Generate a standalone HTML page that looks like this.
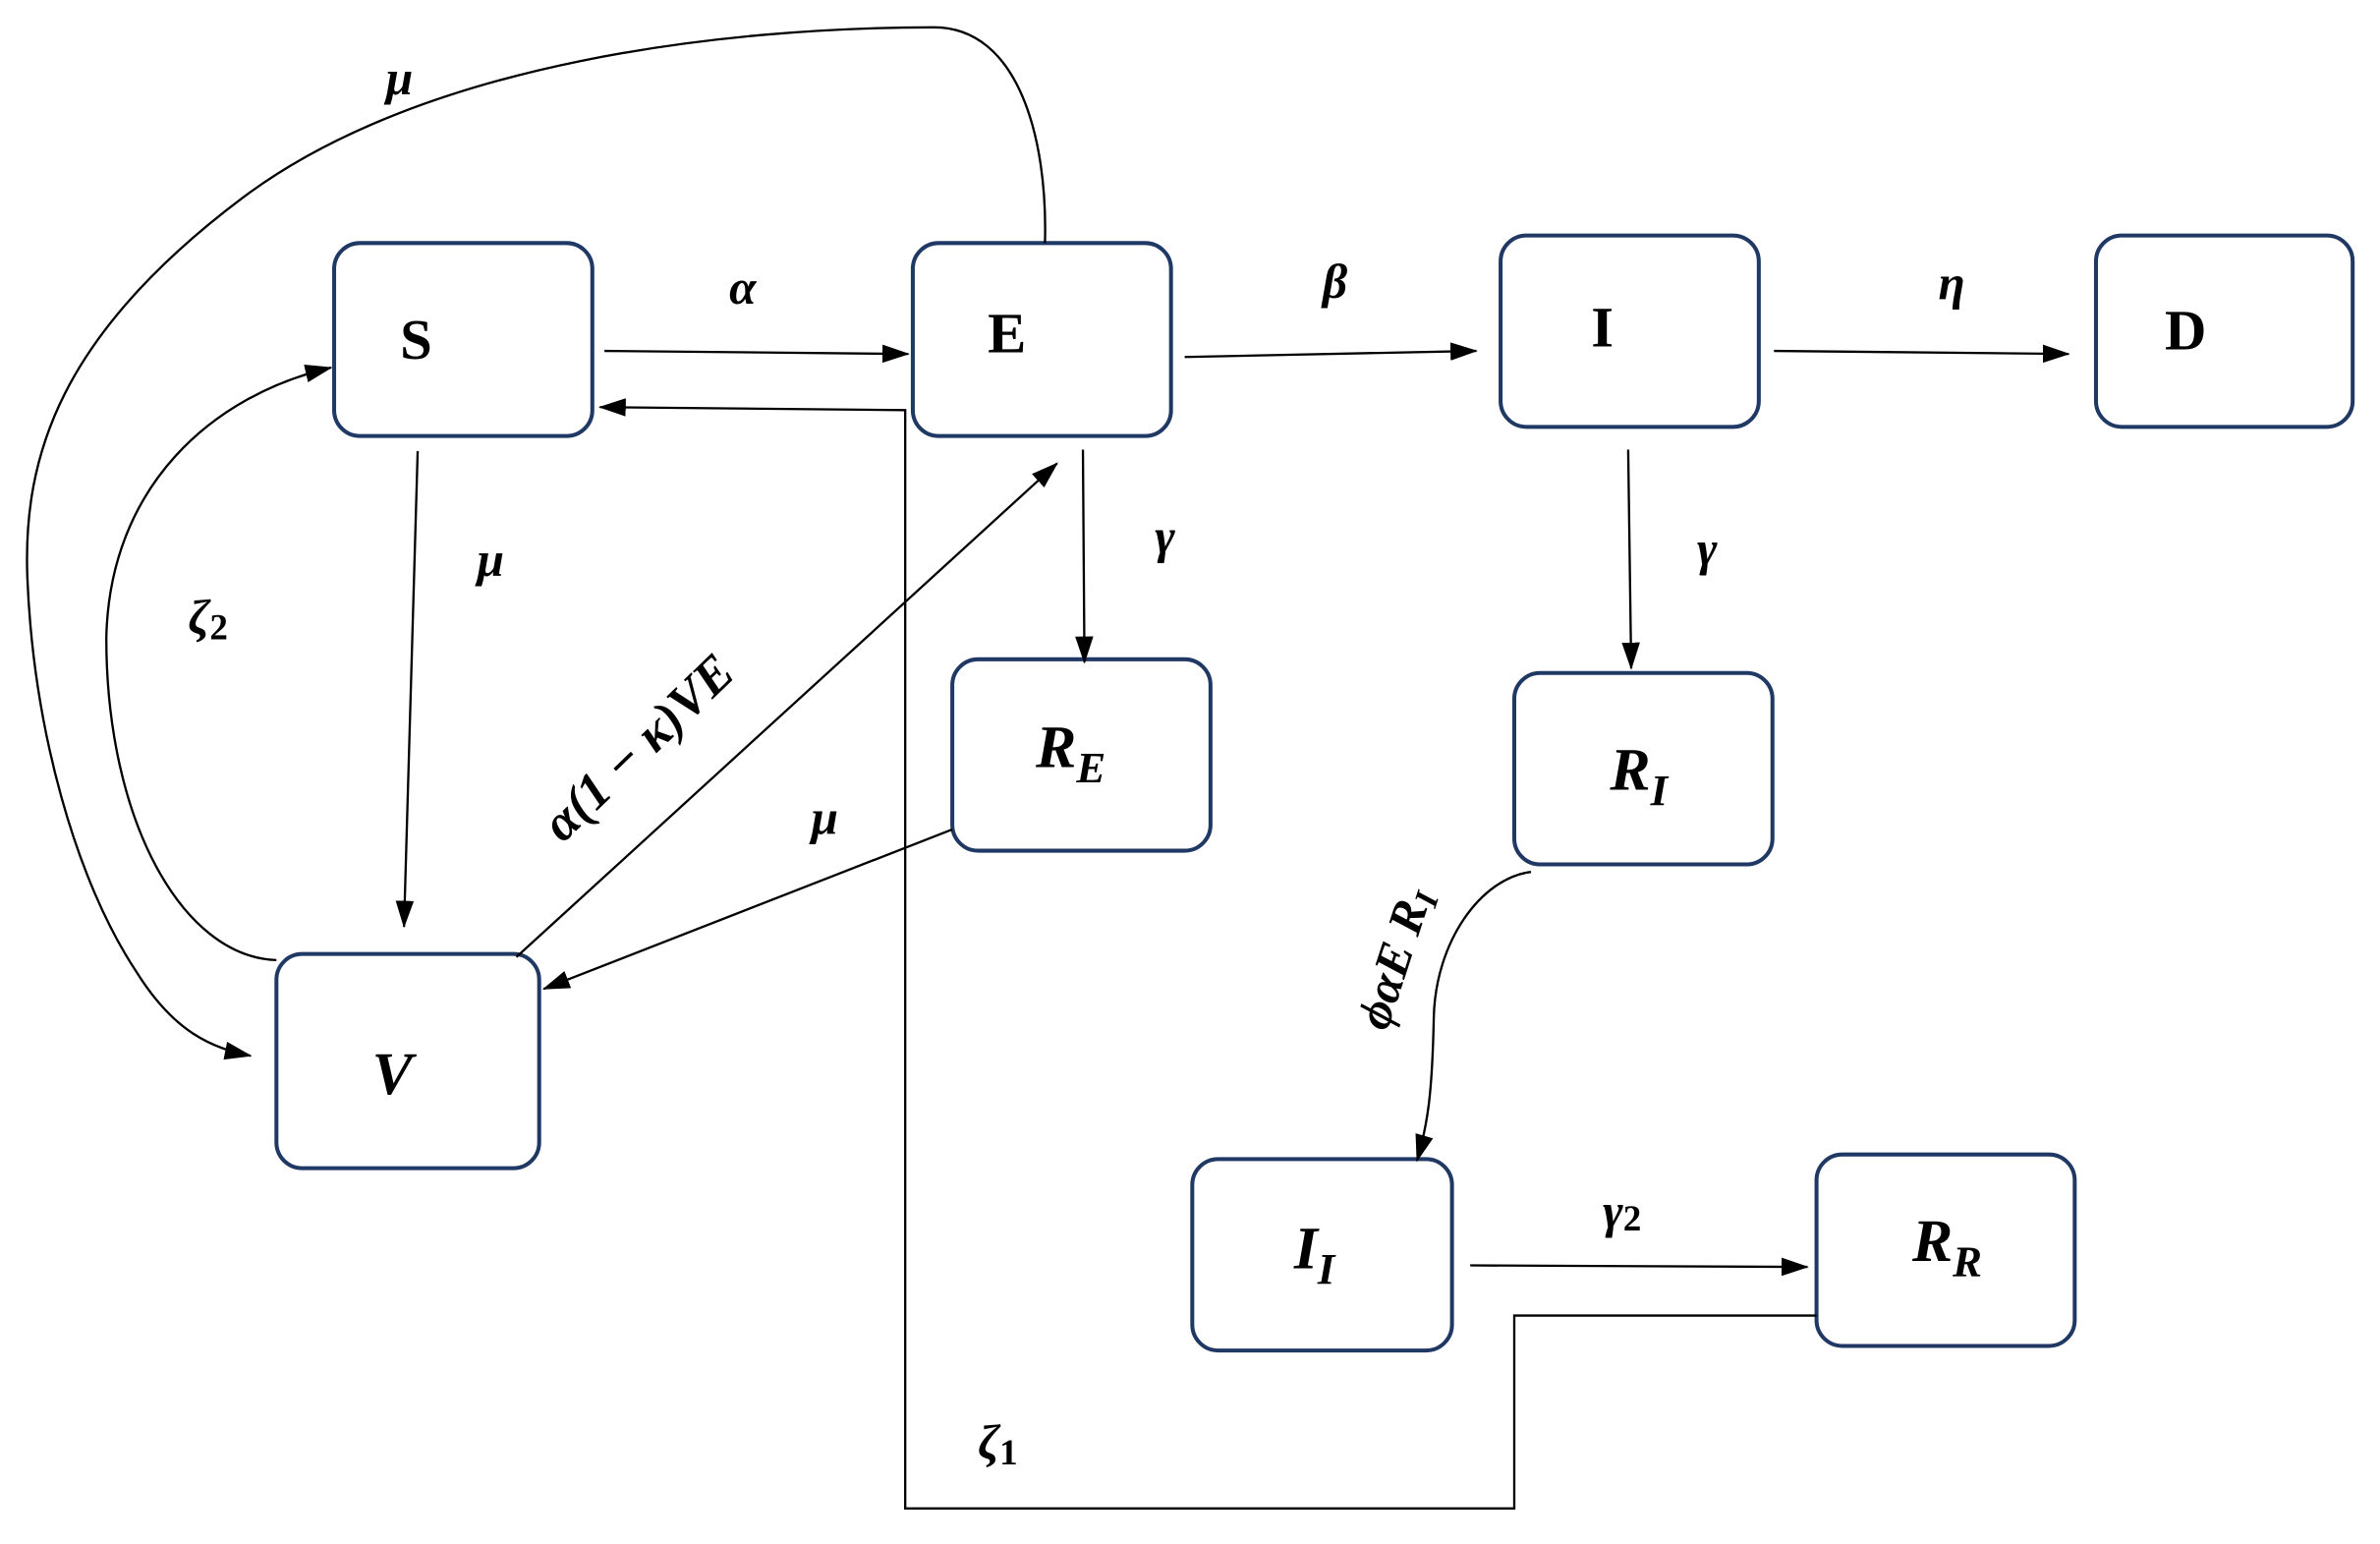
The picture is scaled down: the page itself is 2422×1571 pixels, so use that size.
<!DOCTYPE html>
<html><head><meta charset="utf-8"><style>html,body{margin:0;padding:0;background:#fff}svg{display:block}</style></head>
<body>
<svg width="2422" height="1571" viewBox="0 0 1567 1016.4" preserveAspectRatio="none" xmlns="http://www.w3.org/2000/svg" font-family="Liberation Serif, DejaVu Serif, serif">
<defs>
<marker id="a" markerWidth="18" markerHeight="12" refX="17" refY="6" orient="auto" markerUnits="userSpaceOnUse">
<path d="M0,0 L18,6 L0,12 Z" fill="#000"/></marker>
</defs>
<g fill="none" stroke="#1f3864" stroke-width="2.6">
<rect x="220" y="160" width="170" height="127" rx="17"/>
<rect x="601" y="160" width="170" height="127" rx="17"/>
<rect x="988" y="155" width="170" height="126" rx="17"/>
<rect x="1380" y="155" width="169" height="126" rx="17"/>
<rect x="627" y="434" width="170" height="126" rx="17"/>
<rect x="997" y="443" width="170" height="126" rx="17"/>
<rect x="182" y="628" width="173" height="141" rx="17"/>
<rect x="785" y="763" width="171" height="126" rx="17"/>
<rect x="1196" y="760" width="170" height="126" rx="17"/>
</g>
<g fill="none" stroke="#000" stroke-width="1.5">
<line x1="398" y1="231" x2="598" y2="233" marker-end="url(#a)"/>
<polyline points="1196,866 997,866 997,993 596,993 596,270 395,268" marker-end="url(#a)"/>
<line x1="780" y1="235" x2="972" y2="231" marker-end="url(#a)"/>
<line x1="1168" y1="231" x2="1362" y2="233" marker-end="url(#a)"/>
<line x1="713" y1="296" x2="714" y2="436" marker-end="url(#a)"/>
<line x1="1072" y1="296" x2="1074" y2="440" marker-end="url(#a)"/>
<line x1="275" y1="297" x2="266" y2="610" marker-end="url(#a)"/>
<line x1="340" y1="630" x2="696" y2="305" marker-end="url(#a)"/>
<line x1="627" y1="546" x2="358" y2="651" marker-end="url(#a)"/>
<path d="M182,632 C120,630 70,540 70,420 C72,320 140,260 218,242" marker-end="url(#a)"/>
<path d="M688,160 C690,90 670,18 615,18 C480,18 280,40 160,130 C40,220 15,300 18,380 C22,480 50,580 90,640 C115,680 140,690 165,695" marker-end="url(#a)"/>
<path d="M1008,574 C975,578 945,620 944,670 C943,720 940,740 933,764" marker-end="url(#a)"/>
<line x1="968" y1="833" x2="1190" y2="834" marker-end="url(#a)"/>
</g>
<g font-weight="bold" font-size="38" text-anchor="middle" fill="#000">
<text x="274" y="236">S</text>
<text x="663" y="232">E</text>
<text x="1055" y="228">I</text>
<text x="1439" y="230">D</text>
</g>
<g font-weight="bold" font-style="italic" font-size="40" fill="#000">
<text x="682" y="505">R<tspan font-size="29" dy="10">E</tspan></text>
<text x="1060" y="520">R<tspan font-size="29" dy="10">I</tspan></text>
<text x="245" y="720">V</text>
<text x="852" y="835">I<tspan font-size="29" dy="10">I</tspan></text>
<text x="1259" y="830">R<tspan font-size="29" dy="10">R</tspan></text>
</g>
<g font-weight="bold" font-style="italic" font-size="32" fill="#000" text-anchor="middle">
<text x="489" y="200">α</text>
<text x="879" y="196">β</text>
<text x="1285" y="197">η</text>
<text x="767" y="364">γ</text>
<text x="1124" y="372">γ</text>
<text x="323" y="379">μ</text>
<text x="263" y="62">μ</text>
<text x="543" y="549">μ</text>
<text x="137" y="417">ζ<tspan font-style="normal" font-size="24" dy="4">2</tspan></text>
<text x="657" y="960">ζ<tspan font-style="normal" font-size="24" dy="4">1</tspan></text>
<text x="1068" y="808">γ<tspan font-style="normal" font-size="24" dy="2">2</tspan></text>
<text transform="translate(428,500) rotate(-44)" font-size="34">α(1 − κ)VE</text>
<text transform="translate(928,634) rotate(-72)" font-size="32">ϕαE R<tspan font-size="22" dy="5">I</tspan></text>
</g>
</svg>
</body></html>
